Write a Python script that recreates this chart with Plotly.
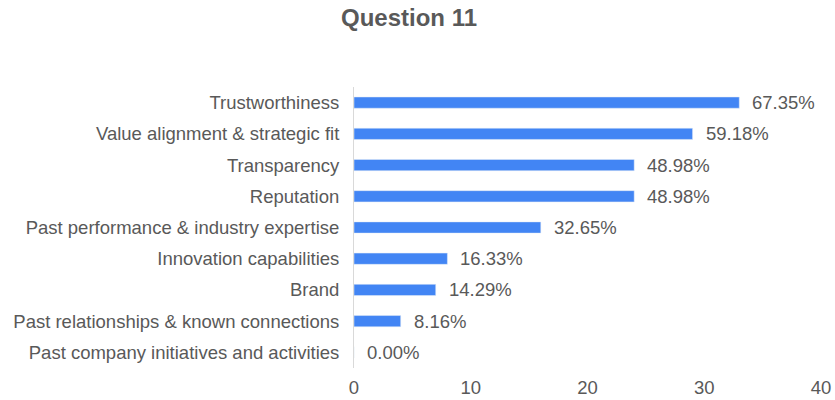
import plotly.graph_objects as go

# Survey answers (respondent counts) and their share of all respondents
categories = [
    "Trustworthiness",
    "Value alignment & strategic fit",
    "Transparency",
    "Reputation",
    "Past performance & industry expertise",
    "Innovation capabilities",
    "Brand",
    "Past relationships & known connections",
    "Past company initiatives and activities",
]
counts = [33, 29, 24, 24, 16, 8, 7, 4, 0]
percent_labels = ["67.35%", "59.18%", "48.98%", "48.98%", "32.65%",
                  "16.33%", "14.29%", "8.16%", "0.00%"]
x_ticks = [0, 10, 20, 30, 40]

TEXT = "#595959"
FONT = "Liberation Sans, Arial, sans-serif"
SIZE = 18.5

fig = go.Figure(
    go.Bar(
        x=counts,
        y=categories,
        orientation="h",
        marker=dict(color="#4285F4"),
        width=0.36,
        hoverinfo="skip",
    )
)

# value labels placed just past each bar end
for cat, val, lab in zip(categories, counts, percent_labels):
    fig.add_annotation(
        x=val, y=cat, text=lab, showarrow=False,
        xanchor="left", xshift=11,
        font=dict(family=FONT, size=SIZE, color=TEXT),
    )

fig.update_layout(
    width=835, height=400,
    margin=dict(l=354, r=14, t=87, b=32),
    paper_bgcolor="white", plot_bgcolor="white",
    showlegend=False,
    title=dict(
        text="<b>Question 11</b>",
        x=409 / 835, xref="container", xanchor="center",
        y=1 - 18 / 400, yref="container", yanchor="middle",
        font=dict(family=FONT, size=24, color=TEXT),
    ),
    font=dict(family=FONT, size=SIZE, color=TEXT),
)
fig.update_xaxes(
    range=[0, 40], tickvals=x_ticks, ticktext=[str(v) for v in x_ticks],
    showgrid=False, zeroline=False, showline=False, ticks="",
    automargin=False, ticklabelstandoff=6,
    tickfont=dict(family=FONT, size=SIZE, color=TEXT),
)
fig.update_yaxes(
    autorange="reversed", showgrid=False, zeroline=False,
    showline=True, linecolor="#D9D9D9", linewidth=1, ticks="",
    automargin=False, ticklabelstandoff=10,
    tickfont=dict(family=FONT, size=SIZE, color=TEXT),
)

fig.write_html("out.html")
